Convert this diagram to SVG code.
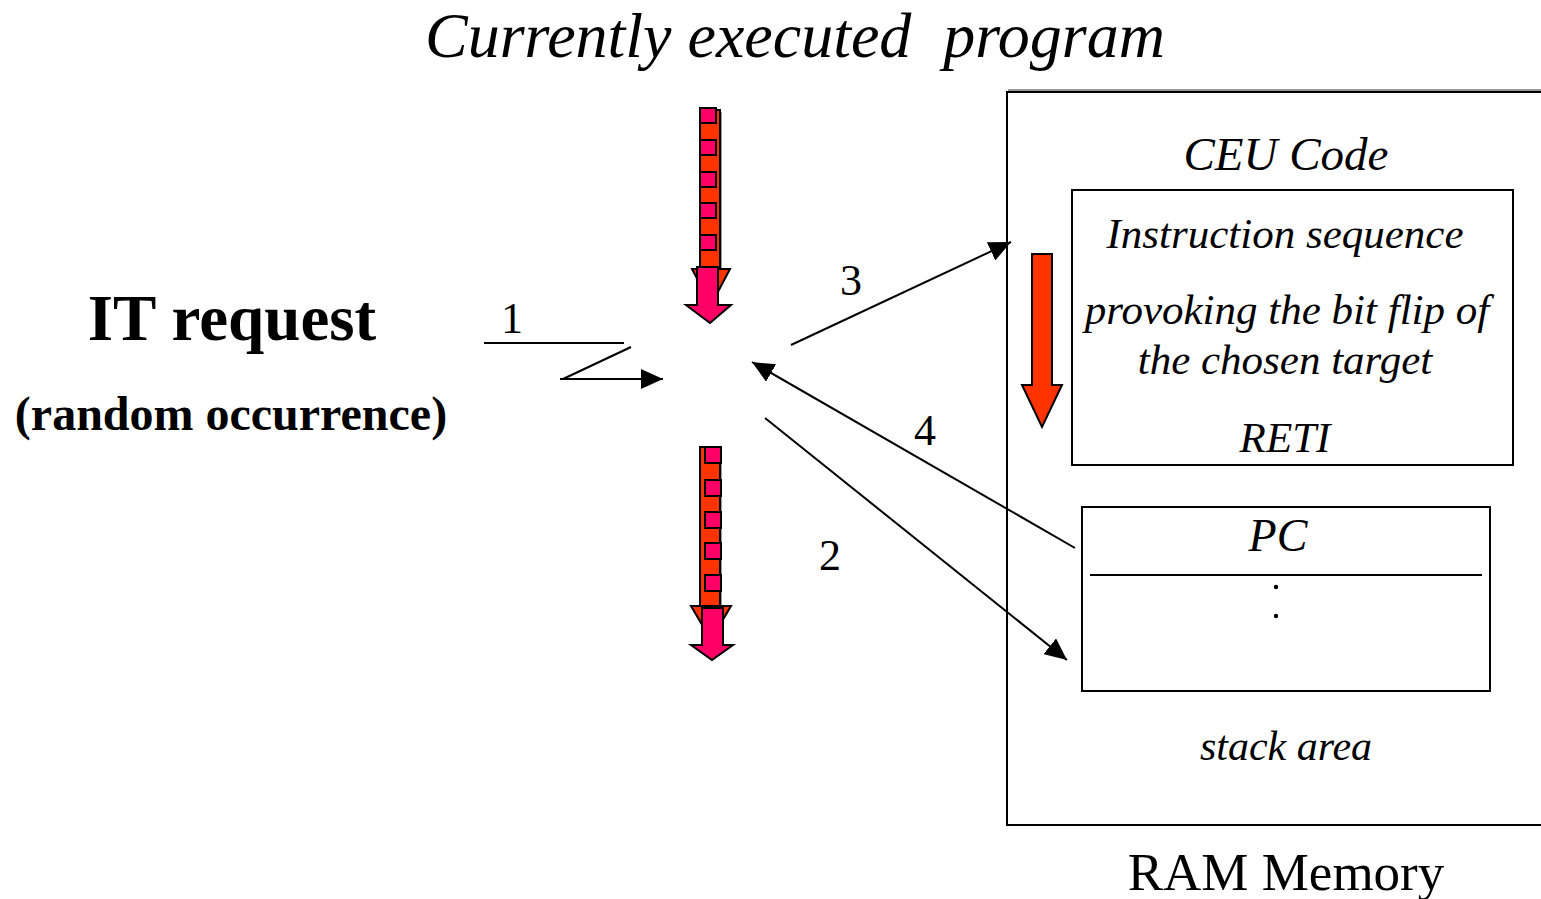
<svg xmlns="http://www.w3.org/2000/svg" width="1541" height="899" viewBox="0 0 1541 899">
<style>
.it{font-family:"Liberation Serif","Times New Roman",serif;font-style:italic;fill:#000;text-anchor:middle}
.rg{font-family:"Liberation Serif","Times New Roman",serif;fill:#000;text-anchor:middle}
.bd{font-family:"Liberation Serif","Times New Roman",serif;font-weight:bold;fill:#000;text-anchor:middle}
.box{fill:none;stroke:#000;stroke-width:2}
.shadow{fill:none;stroke:#999;stroke-width:2}
.ln{fill:none;stroke:#000;stroke-width:2}
.orange{fill:#FF3300;stroke:#000;stroke-width:2}
.pink{fill:#FF0066;stroke:#000;stroke-width:2}
.gshadow{fill:#999}
</style>
<defs>
<marker id="ah" viewBox="0 0 22 20" refX="22" refY="10" markerWidth="22" markerHeight="20" markerUnits="userSpaceOnUse" orient="auto">
<path d="M0,0 L22,10 L0,20 z" fill="#000"/>
</marker>
</defs>
<rect width="1541" height="899" fill="#fff"/>

<text class="it" x="795" y="57" font-size="64" xml:space="preserve">Currently executed  program</text>

<g id="it-request">
<text class="bd" x="232" y="340" font-size="65">IT request</text>
<text class="bd" x="231" y="430" font-size="48">(random occurrence)</text>
</g>

<g id="program-arrow-top">
<rect class="gshadow" x="702" y="112" width="20" height="158"/>
<rect class="orange" x="700" y="110" width="20" height="160"/>
<polygon class="orange" points="692,269 730,269 711,305"/>
<rect class="pink" x="700" y="108" width="16" height="15"/>
<rect class="pink" x="700" y="140" width="16" height="15"/>
<rect class="pink" x="700" y="172" width="16" height="15"/>
<rect class="pink" x="700" y="203" width="16" height="15"/>
<rect class="pink" x="700" y="235" width="16" height="15"/>
<polygon class="pink" points="697,267 718,267 718,305 731,305 710,323 686,305 697,305"/>
</g>

<g id="program-arrow-bottom">
<rect class="gshadow" x="702" y="449" width="20" height="158"/>
<rect class="orange" x="700" y="447" width="20" height="160"/>
<polygon class="orange" points="691,606 731,606 711,640"/>
<rect class="pink" x="705" y="447" width="16" height="16"/>
<rect class="pink" x="705" y="480" width="16" height="16"/>
<rect class="pink" x="705" y="512" width="16" height="16"/>
<rect class="pink" x="705" y="543" width="16" height="16"/>
<rect class="pink" x="705" y="575" width="16" height="16"/>
<polygon class="pink" points="702,608 723,608 723,645 733,645 712,660 691,645 702,645"/>
</g>

<g id="ram-memory">
<path class="shadow" d="M1008,90 H1541"/>
<rect class="box" x="1007" y="92" width="560" height="733"/>
<text class="rg" x="1286" y="890" font-size="53">RAM Memory</text>
<text class="it" x="1286" y="170" font-size="47">CEU Code</text>
<text class="it" x="1286" y="760" font-size="42">stack area</text>
</g>

<g id="ceu-code">
<rect class="box" x="1072" y="190" width="441" height="275"/>
<text class="it" x="1285" y="248" font-size="43">Instruction sequence</text>
<text class="it" x="1287" y="324" font-size="43">provoking the bit flip of</text>
<text class="it" x="1285" y="374" font-size="43">the chosen target</text>
<text class="it" x="1285" y="452" font-size="43">RETI</text>
<polygon class="orange" points="1032,254 1052,254 1052,385 1062,385 1042,427 1022,385 1032,385"/>
</g>

<g id="stack">
<rect class="box" x="1082" y="507" width="408" height="184"/>
<text class="it" x="1278" y="551" font-size="46">PC</text>
<line class="ln" x1="1090" y1="575" x2="1482" y2="575"/>
<circle cx="1276" cy="587" r="2.2" fill="#000"/>
<circle cx="1276" cy="616" r="2.2" fill="#000"/>
</g>

<g id="connectors">
<polyline class="ln" points="484,343 624,343"/>
<polyline class="ln" points="631,347 563,379"/>
<line class="ln" x1="560" y1="379" x2="663" y2="379" marker-end="url(#ah)"/>
<line class="ln" x1="791" y1="345" x2="1011" y2="242" marker-end="url(#ah)"/>
<line class="ln" x1="1075" y1="548" x2="752" y2="362" marker-end="url(#ah)"/>
<line class="ln" x1="765" y1="418" x2="1067" y2="660" marker-end="url(#ah)"/>
<text class="rg" x="512" y="333" font-size="44">1</text>
<text class="rg" x="830" y="570" font-size="44">2</text>
<text class="rg" x="851" y="295" font-size="44">3</text>
<text class="rg" x="925" y="445" font-size="44">4</text>
</g>
</svg>
